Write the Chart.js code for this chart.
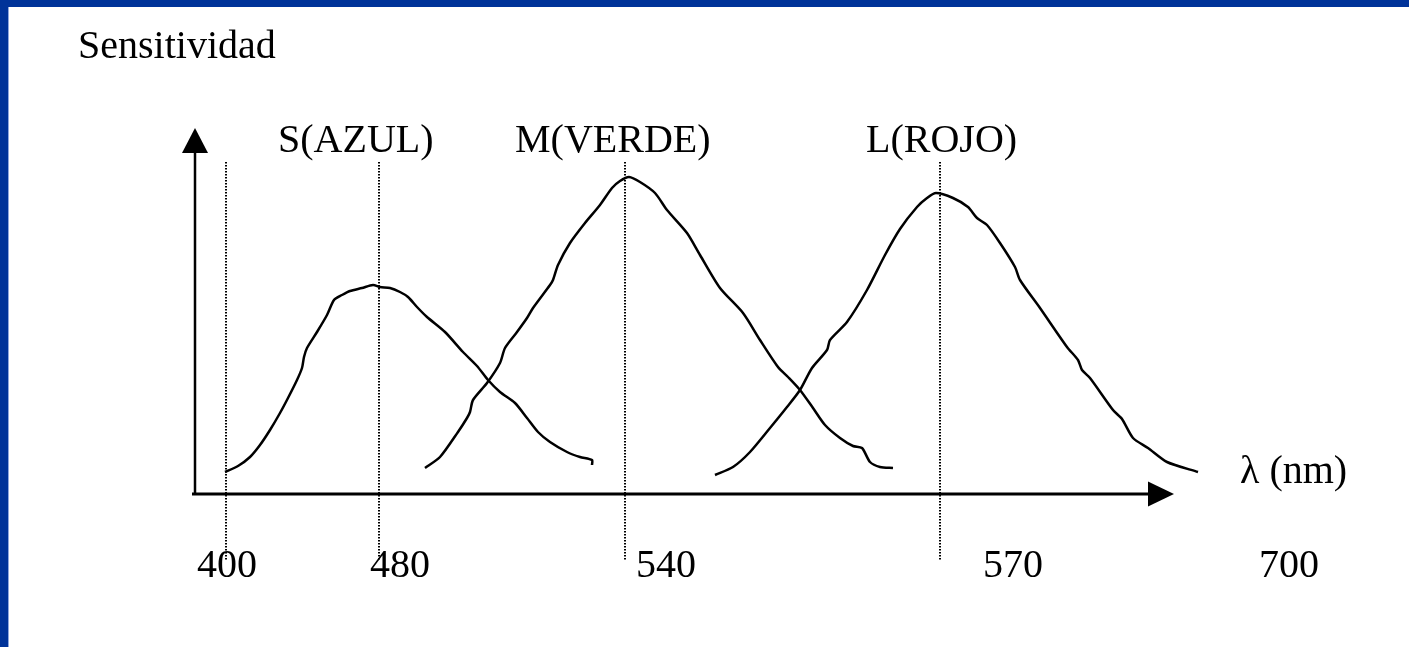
<!DOCTYPE html>
<html lang="es">
<head>
<meta charset="utf-8">
<title>Sensitividad de los conos</title>
<script src="https://cdn.jsdelivr.net/npm/chart.js@4.4.1/dist/chart.umd.min.js"></script>
<style>
  html, body { margin: 0; padding: 0; background: #fff; }
  #wrap { position: relative; width: 1409px; height: 647px; overflow: hidden; background: #fff; }
  #chart { position: absolute; left: 0; top: 0; }
  .bar-left { position: absolute; left: 0; top: 0; width: 8px; height: 647px; background: #003399; border-right: 1px solid #8fa8de; }
  .bar-top { position: absolute; left: 0; top: 0; width: 1409px; height: 7px; background: #003399; }
</style>
</head>
<body>
<div id="wrap">
  <canvas id="chart" width="1409" height="647"></canvas>
  <div class="bar-left"></div>
  <div class="bar-top"></div>
</div>
<script>
// eje x dibujado sin escala real: unidades horizontales desde el eje vertical
// eje y: sensibilidad en unidades arbitrarias (0 = eje, 366 = punta de la flecha)

// curva S (AZUL)
const sX = [30, 43, 55, 65, 75, 85, 93, 102, 107, 109, 112, 122, 132, 139, 147, 155, 167, 178, 185, 195, 205, 213, 222, 232, 250, 268, 282, 293, 305, 320, 332, 343, 355, 372, 385, 397, 397];
const sY = [22, 28, 37, 49, 64, 81, 96, 114, 126, 137, 146, 162, 179, 194, 199, 203, 206, 209, 207, 206, 202, 197, 187, 177, 162, 142, 128, 114, 102, 91, 76, 62, 52, 42, 37, 34, 29];

// curva M (VERDE)
const mX = [230, 245, 263, 272, 275, 278, 292, 305, 310, 322, 332, 338, 355, 358, 363, 375, 390, 405, 417, 425, 434, 445, 460, 472, 492, 505, 525, 548, 565, 583, 593, 605, 618, 630, 645, 658, 667, 675, 685, 698];
const mY = [26, 37, 62, 76, 82, 94, 111, 131, 146, 162, 176, 186, 209, 214, 229, 251, 271, 289, 306, 313, 317, 312, 301, 284, 261, 239, 206, 181, 154, 127, 117, 104, 86, 69, 56, 48, 46, 32, 27, 26];

// curva L (ROJO)
const lX = [520, 538, 555, 575, 592, 605, 617, 632, 635, 652, 672, 690, 705, 722, 732, 741, 758, 773, 782, 792, 805, 820, 825, 845, 872, 883, 887, 895, 918, 927, 938, 953, 972, 1003];
const lY = [19, 27, 42, 66, 87, 104, 126, 144, 154, 172, 204, 239, 265, 287, 296, 301, 296, 287, 276, 269, 251, 227, 214, 186, 147, 134, 124, 116, 84, 75, 56, 46, 32, 22];

// marcas del eje de longitud de onda
const tickPos = [32, 205, 471, 818, 1094];
const tickLabels = ['400', '480', '540', '570', '700'];

// líneas punteadas de referencia
const guidePos = [31, 184, 430, 745];
const guideTop = 332;
const guideBottom = -66;

// nombres de los conos
const coneNames = ['S(AZUL)', 'M(VERDE)', 'L(ROJO)'];
const coneNameX = [83, 320, 671];
const coneNameY = 342;

const xEnd = 979;   // punta de la flecha del eje x
const yTop = 366;   // punta de la flecha del eje y

const FONT = '"Liberation Serif", "Times New Roman", serif';

function pts(xs, ys) {
    return xs.map((x, i) => ({ x, y: ys[i] }));
}

function curve(label, xs, ys) {
    return {
        label,
        data: pts(xs, ys),
        borderColor: '#000',
        borderWidth: 2.5,
        pointRadius: 0,
        tension: 0.25,
        fill: false
    };
}

const extras = {
    id: 'extras',
    beforeDatasetsDraw(chart) {
        const { ctx, scales: { x, y } } = chart;
        ctx.save();
        ctx.strokeStyle = '#000';
        ctx.lineWidth = 2;
        ctx.setLineDash([1.5, 1.5]);
        guidePos.forEach(v => {
            const px = Math.round(x.getPixelForValue(v));
            ctx.beginPath();
            ctx.moveTo(px, y.getPixelForValue(guideTop));
            ctx.lineTo(px, y.getPixelForValue(guideBottom));
            ctx.stroke();
        });
        ctx.restore();
    },
    afterDraw(chart) {
        const { ctx, scales: { x, y } } = chart;
        const x0 = x.getPixelForValue(0);
        const y0 = y.getPixelForValue(0);
        const xTip = x.getPixelForValue(xEnd);
        const yTip = y.getPixelForValue(yTop);
        ctx.save();
        ctx.fillStyle = '#000';
        ctx.strokeStyle = '#000';

        // eje y con flecha
        ctx.lineWidth = 2.5;
        ctx.beginPath();
        ctx.moveTo(x0, y0 + 1);
        ctx.lineTo(x0, yTip + 20);
        ctx.stroke();
        ctx.beginPath();
        ctx.moveTo(x0, yTip);
        ctx.lineTo(x0 - 13, yTip + 25);
        ctx.lineTo(x0 + 13, yTip + 25);
        ctx.closePath();
        ctx.fill();

        // eje x con flecha
        ctx.lineWidth = 3;
        ctx.beginPath();
        ctx.moveTo(x0 - 3, y0);
        ctx.lineTo(xTip - 20, y0);
        ctx.stroke();
        ctx.beginPath();
        ctx.moveTo(xTip, y0);
        ctx.lineTo(xTip - 26, y0 - 12.5);
        ctx.lineTo(xTip - 26, y0 + 12.5);
        ctx.closePath();
        ctx.fill();

        // textos
        ctx.font = '40px ' + FONT;
        ctx.textBaseline = 'alphabetic';
        ctx.textAlign = 'left';
        ctx.fillText('Sensitividad', 78, 58);
        ctx.fillText('\u03bb (nm)', 1240, 483);
        coneNames.forEach((n, i) => {
            ctx.fillText(n, x.getPixelForValue(coneNameX[i]), y.getPixelForValue(coneNameY));
        });
        ctx.restore();
    }
};

new Chart(document.getElementById('chart'), {
    type: 'line',
    data: {
        datasets: [
            curve('S(AZUL)', sX, sY),
            curve('M(VERDE)', mX, mY),
            curve('L(ROJO)', lX, lY)
        ]
    },
    options: {
        responsive: false,
        animation: false,
        devicePixelRatio: 1,
        layout: { padding: { left: 195, right: 9, top: 128, bottom: 0 } },
        plugins: {
            legend: { display: false },
            tooltip: { enabled: false },
            title: { display: false }
        },
        scales: {
            x: {
                type: 'linear',
                min: 0,
                max: 1205,
                grid: { display: false, drawTicks: false },
                border: { display: false },
                afterBuildTicks: axis => {
                    axis.ticks = tickPos.map(v => ({ value: v }));
                },
                afterFit: axis => {
                    axis.height = 153;
                },
                ticks: {
                    autoSkip: false,
                    maxRotation: 0,
                    padding: 48,
                    color: '#000',
                    font: { family: FONT, size: 40 },
                    callback: (v, i) => tickLabels[i]
                }
            },
            y: {
                type: 'linear',
                min: 0,
                max: yTop,
                display: false
            }
        }
    },
    plugins: [extras]
});
</script>
</body>
</html>
